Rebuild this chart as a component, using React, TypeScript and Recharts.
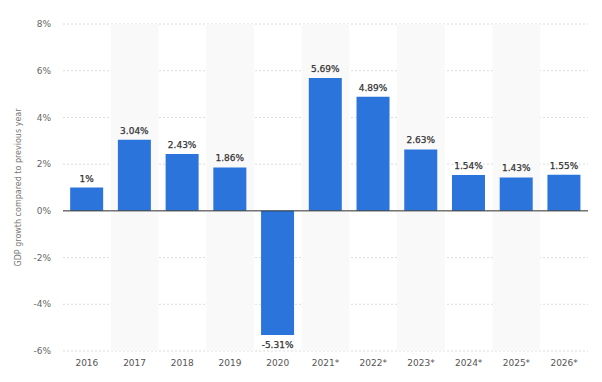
import { BarChart, Bar, XAxis, YAxis, CartesianGrid, ReferenceArea, ReferenceLine, LabelList } from 'recharts'

const years = ['2016', '2017', '2018', '2019', '2020', '2021*', '2022*', '2023*', '2024*', '2025*', '2026*']
const growth = [1, 3.04, 2.43, 1.86, -5.31, 5.69, 4.89, 2.63, 1.54, 1.43, 1.55]
const yTicks = [-6, -4, -2, 0, 2, 4, 6, 8]
const shadedYears = ['2017', '2019', '2021*', '2023*', '2025*']

const data = years.map((year, i) => ({ year, growth: growth[i] }))

const FONT = '"DejaVu Sans", sans-serif'

// label au-dessus des barres positives, en dessous des négatives
const ValueLabel = (props: any) => {
  const { x, y, width, height, value } = props
  const top = Math.min(y, y + height)
  const bottom = Math.max(y, y + height)
  const ty = value >= 0 ? top - 6 : bottom + 13
  return (
    <text x={x + width / 2} y={ty} textAnchor="middle" fontSize={9} fill="#333" stroke="#333" strokeWidth={0.25} fontFamily={FONT}>
      {`${value}%`}
    </text>
  )
}

export default function App() {
  return (
    <div style={{ position: 'absolute', left: 0, top: 0, width: 602, height: 382, background: '#fff' }}>
      <BarChart
        width={602}
        height={382}
        data={data}
        margin={{ top: 24, right: 14, bottom: 1, left: 0 }}
        barCategoryGap="15%"
      >
        {shadedYears.map(y => (
          <ReferenceArea key={y} x1={y} x2={y} y1={-6} y2={8} fill="#f9f9f9" fillOpacity={1} stroke="none" />
        ))}
        <CartesianGrid vertical={false} stroke="#dcdcdc" strokeDasharray="2 2" />
        <XAxis
          dataKey="year"
          axisLine={false}
          tickLine={false}
          tickSize={0}
          tickMargin={9}
          height={30}
          interval={0}
          tick={{ fontSize: 9, fill: '#555', fontFamily: FONT }}
        />
        <YAxis
          width={63}
          domain={[-6, 8]}
          ticks={yTicks}
          tickFormatter={(v: number) => `${v}%`}
          axisLine={false}
          tickLine={false}
          tickSize={0}
          tickMargin={12}
          tick={{ fontSize: 9, fill: '#666', fontFamily: FONT }}
          label={{
            value: 'GDP growth compared to previous year',
            angle: -90,
            position: 'insideLeft',
            offset: 18,
            style: { fontSize: 8, fill: '#777', fontFamily: FONT, textAnchor: 'middle' },
          }}
        />
        <ReferenceLine y={0} stroke="#333" strokeWidth={1} />
        <Bar dataKey="growth" fill="#2a74db" isAnimationActive={false}>
          <LabelList dataKey="growth" content={<ValueLabel />} />
        </Bar>
      </BarChart>
    </div>
  )
}
